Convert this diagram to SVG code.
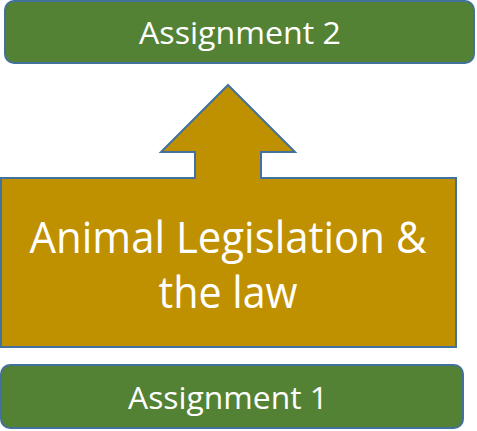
<svg xmlns="http://www.w3.org/2000/svg" width="477" height="431" viewBox="0 0 477 431">
  <style>
    .box { fill: #548235; stroke: #41719C; stroke-width: 2; }
    .block { fill: #BF9000; stroke: #41719C; stroke-width: 2; stroke-linejoin: miter; }
    .label { fill: #FFFFFF; font-family: "Open Sans", "Noto Sans", sans-serif; text-anchor: middle; }
    .small { font-size: 30.5px; }
    .big { font-size: 44px; }
  </style>
  <rect width="477" height="431" fill="#FFFFFF"/>

  <g id="assignment-2">
    <rect class="box" x="5" y="1" width="469" height="62" rx="9"/>
    <text class="label small" x="240" y="44" textLength="202" lengthAdjust="spacingAndGlyphs">Assignment 2</text>
  </g>

  <!-- block with an upward arrow leading to the next assignment -->
  <g id="animal-legislation">
    <polygon class="block" points="228,85 295,152 261,152 261,178 456,178 456,347 1,347 1,178 195,178 195,152 161,152"/>
    <text class="label big" x="228" y="253" textLength="397" lengthAdjust="spacingAndGlyphs">Animal Legislation &amp;</text>
    <text class="label big" x="228" y="308" textLength="139" lengthAdjust="spacingAndGlyphs">the law</text>
  </g>

  <g id="assignment-1">
    <rect class="box" x="1" y="365" width="462" height="63" rx="9"/>
    <text class="label small" x="228" y="409" textLength="200" lengthAdjust="spacingAndGlyphs">Assignment 1</text>
  </g>
</svg>
